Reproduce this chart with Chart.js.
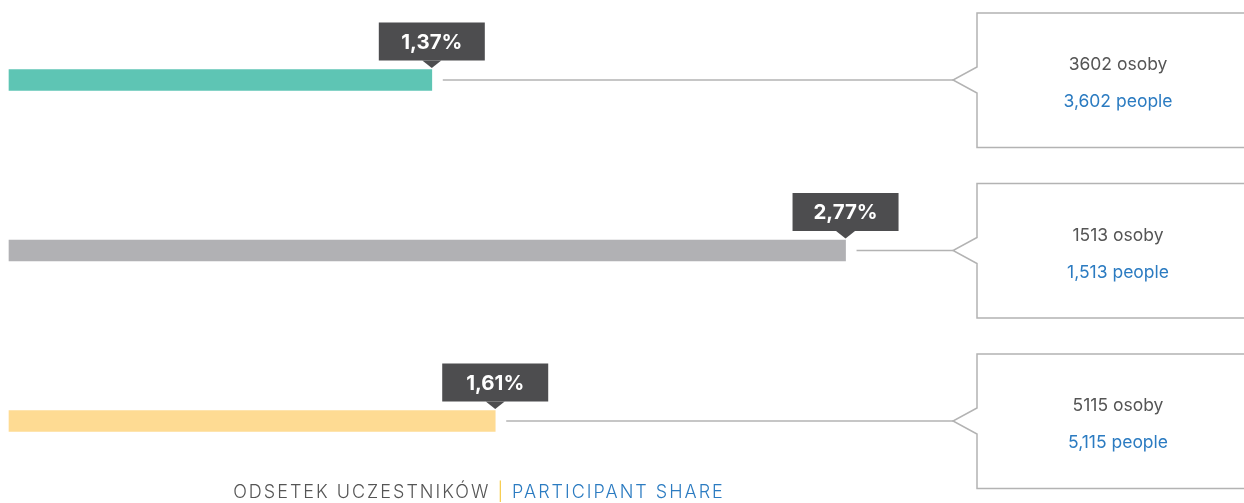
<!DOCTYPE html>
<html>
<head>
<meta charset="utf-8">
<script src="https://cdn.jsdelivr.net/npm/chart.js@4"></script>
<style>
  html, body { margin: 0; padding: 0; background: #fff; }
  #wrap { width: 1244px; height: 503px; position: relative; }
</style>
</head>
<body>
<div id="wrap"><canvas id="udzial"></canvas></div>
<script>
const categories = ['Grupa 1', 'Grupa 2', 'Grupa 3'];
// bar lengths (percent)
const shareValues = [1.40, 2.77, 1.61];
const shareLabels = ['1,37%', '2,77%', '1,61%'];
const countsPl = ['3602 osoby', '1513 osoby', '5115 osoby'];
const countsEn = ['3,602 people', '1,513 people', '5,115 people'];
const barColors = ['#5ec5b4', '#b1b1b4', '#fedb93'];

const DARK = '#4d4d4f';
const LINE = '#b3b3b3';
const BLUE = '#2b7bc1';
const GREY_TXT = '#555555';

const calloutPlugin = {
    id: 'callouts',
    afterDatasetsDraw(chart) {
        const ctx = chart.ctx;
        const bars = chart.getDatasetMeta(0).data;
        ctx.save();
        bars.forEach((bar, i) => {
            const endX = bar.x;
            const cy = bar.y;
            const top = cy - bar.height / 2;

            // connector line
            ctx.strokeStyle = LINE;
            ctx.lineWidth = 1.5;
            ctx.beginPath();
            ctx.moveTo(endX + 11, cy);
            ctx.lineTo(953, cy);
            ctx.stroke();

            // right box with notch
            ctx.beginPath();
            ctx.moveTo(1250, cy - 67);
            ctx.lineTo(977, cy - 67);
            ctx.lineTo(977, cy - 13);
            ctx.lineTo(953, cy);
            ctx.lineTo(977, cy + 13);
            ctx.lineTo(977, cy + 67.5);
            ctx.lineTo(1250, cy + 67.5);
            ctx.stroke();

            ctx.textAlign = 'center';
            ctx.textBaseline = 'middle';
            ctx.font = '17.5px Inter';
            ctx.fillStyle = GREY_TXT;
            ctx.fillText(countsPl[i], 1118, cy - 15);
            ctx.fillStyle = BLUE;
            ctx.fillText(countsEn[i], 1118, cy + 22);

            // value tag above bar end
            const bw = 106, bh = 38;
            const bBottom = top - 9;
            ctx.fillStyle = DARK;
            ctx.fillRect(endX - bw / 2, bBottom - bh, bw, bh);
            ctx.beginPath();
            ctx.moveTo(endX - 9.5, bBottom);
            ctx.lineTo(endX + 9.5, bBottom);
            ctx.lineTo(endX, top - 1.5);
            ctx.closePath();
            ctx.fill();
            ctx.fillStyle = '#ffffff';
            ctx.font = 'bold 20.5px Inter';
            ctx.fillText(shareLabels[i], endX, bBottom - bh / 2 + 1);
        });

        // bottom title
        const parts = [
            ['ODSETEK UCZESTNIKÓW ', GREY_TXT],
            ['|', '#f6c636'],
            [' PARTICIPANT SHARE', BLUE]
        ];
        ctx.font = '300 18px Inter';
        ctx.letterSpacing = '2px';
        ctx.textAlign = 'left';
        ctx.textBaseline = 'middle';
        const total = parts.reduce((s, p) => s + ctx.measureText(p[0]).width, 0);
        let x = 479 - total / 2;
        parts.forEach(p => {
            ctx.fillStyle = p[1];
            ctx.fillText(p[0], x, 493);
            x += ctx.measureText(p[0]).width;
        });
        ctx.restore();
    }
};

new Chart(document.getElementById('udzial'), {
    type: 'bar',
    data: {
        labels: categories,
        datasets: [{
            data: shareValues,
            backgroundColor: barColors,
            barThickness: 21,
            borderWidth: 0,
            clip: false
        }]
    },
    options: {
        indexAxis: 'y',
        responsive: true,
        maintainAspectRatio: false,
        animation: false,
        layout: { padding: { left: 9, right: 27, top: 80, bottom: 82 } },
        scales: {
            x: { display: false, min: 0, max: 4 },
            y: { display: false, offset: false }
        },
        plugins: {
            legend: { display: false },
            tooltip: { enabled: false }
        }
    },
    plugins: [calloutPlugin]
});
</script>
</body>
</html>
